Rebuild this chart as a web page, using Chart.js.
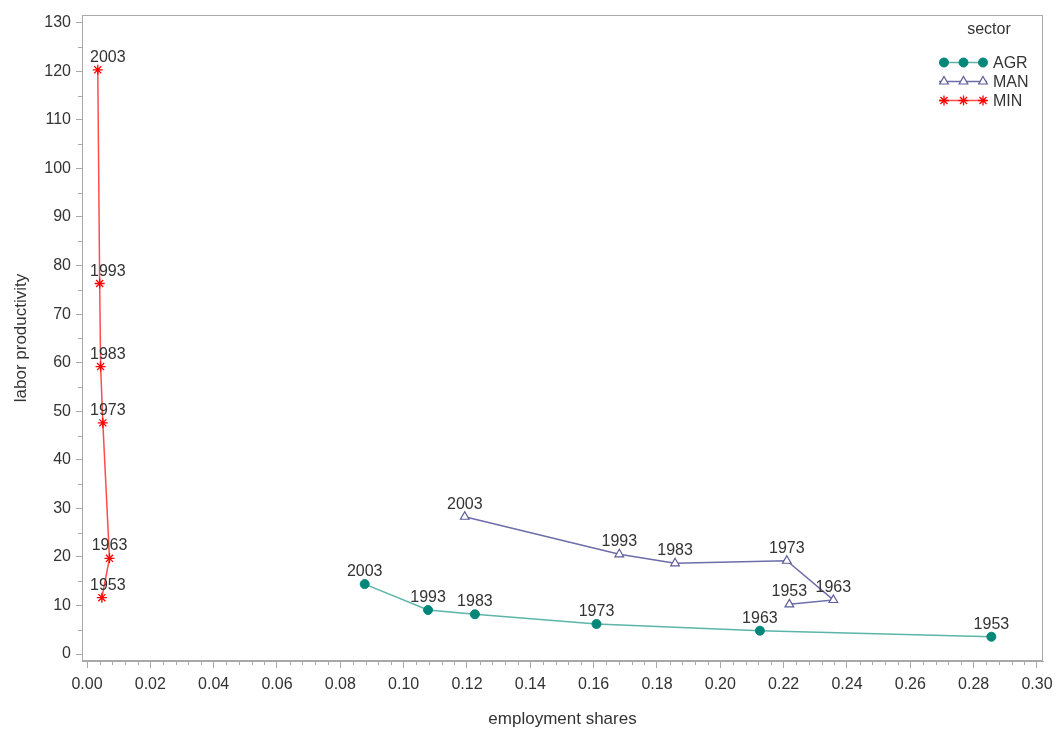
<!DOCTYPE html>
<html><head><meta charset="utf-8">
<script src="https://cdn.jsdelivr.net/npm/chart.js@4/dist/chart.umd.min.js"></script>
<style>html,body{margin:0;padding:0;background:#fff}#wrap{width:1056px;height:731px;position:relative}</style>
</head><body><div id="wrap"><canvas id="c" width="1056" height="731"></canvas></div>
<script>
const years = ['2003','1993','1983','1973','1963','1953'];
const sectors = ['AGR','MAN','MIN'];
const agrShare = [0.0877,0.1077,0.1225,0.1609,0.2125,0.2856];
const agrProd  = [14.4,9.06,8.18,6.18,4.80,3.56];
const manShare = [0.1193,0.1681,0.1857,0.2210,0.2357,0.2218];
const manProd  = [28.27,20.53,18.68,19.21,11.12,10.23];
const minShare = [0.0034,0.0040,0.0043,0.0050,0.0071,0.0047];
const minProd  = [120.3,76.3,59.2,47.6,19.7,11.6];
const xTicks = [0,0.02,0.04,0.06,0.08,0.10,0.12,0.14,0.16,0.18,0.20,0.22,0.24,0.26,0.28,0.30];
const yTicks = [0,10,20,30,40,50,60,70,80,90,100,110,120,130];
const xMinor = []; for (let i = 0; i < xTicks.length - 1; i++) for (let k = 1; k < 5; k++) xMinor.push(xTicks[i] + k * 0.004);
const yMinor = []; for (let i = 0; i < yTicks.length - 1; i++) yMinor.push(yTicks[i] + 5);

const FONT = '"Liberation Sans", Arial, sans-serif';
const GRID = '#a9a9a9';
const TXT = '#333333';

function pts(xs, ys){ return xs.map((x,i)=>({x:x, y:ys[i]})); }

const styles = [
  {line:'#5bb5a9', pb:'#00877a', pc:'#00877a', ps:'circle', r:4.5, bw:1},
  {line:'#6d6da9', pb:'#ffffff', pc:'#5b5b9b', ps:'triangle', r:5, bw:1.2},
  {line:'#ff4d4d', pb:'#ff0000', pc:'#ff0000', ps:'star', r:5, bw:1.3}
];
const series = [pts(agrShare,agrProd), pts(manShare,manProd), pts(minShare,minProd)];

const datasets = sectors.map((s,i)=>({
  label: s, data: series[i], showLine: true,
  borderColor: styles[i].line, borderWidth: 1.5,
  pointStyle: styles[i].ps, pointRadius: styles[i].r,
  pointBackgroundColor: styles[i].pb, pointBorderColor: styles[i].pc,
  pointBorderWidth: styles[i].bw, tension: 0
}));

function drawMarker(ctx, st, x, y){
  ctx.save();
  ctx.fillStyle = st.pb; ctx.strokeStyle = st.pc; ctx.lineWidth = st.bw;
  if (Chart.helpers && Chart.helpers.drawPoint) {
    Chart.helpers.drawPoint(ctx, {pointStyle: st.ps, rotation: 0, radius: st.r, borderWidth: st.bw}, x, y);
  } else {
    ctx.beginPath(); ctx.arc(x, y, st.r, 0, Math.PI*2); ctx.fill(); ctx.stroke();
  }
  ctx.restore();
}

const deco = {
  id: 'deco',
  afterDraw(chart){
    const ctx = chart.ctx, a = chart.chartArea;
    const xs = chart.scales.x, ys = chart.scales.y;
    ctx.save();
    ctx.strokeStyle = GRID; ctx.lineWidth = 1;
    ctx.strokeRect(Math.round(a.left)+0.5, Math.round(a.top)+0.5, Math.round(a.right-a.left)-1, Math.round(a.bottom-a.top)-1);
    ctx.beginPath();
    xMinor.forEach(v=>{ const p = Math.round(xs.getPixelForValue(v))+0.5; ctx.moveTo(p, a.bottom); ctx.lineTo(p, a.bottom+4); });
    yMinor.forEach(v=>{ const p = Math.round(ys.getPixelForValue(v))+0.5; ctx.moveTo(a.left-4, p); ctx.lineTo(a.left, p); });
    ctx.stroke();
    ctx.font = '16px ' + FONT; ctx.fillStyle = TXT; ctx.textAlign = 'center'; ctx.textBaseline = 'alphabetic';
    chart.data.datasets.forEach((ds, di)=>{
      const meta = chart.getDatasetMeta(di);
      meta.data.forEach((el, i)=>{
        const t = years[i]; const w = ctx.measureText(t).width;
        const cx = Math.max(el.x, a.left + 8 + w/2);
        ctx.fillText(t, cx, el.y - 8);
      });
    });
    ctx.textBaseline = 'middle';
    ctx.fillText('sector', 989, 30);
    ctx.textAlign = 'left';
    sectors.forEach((s, k)=>{
      const y = 62.5 + k*19; const st = styles[k];
      ctx.strokeStyle = st.line; ctx.lineWidth = 1.5;
      ctx.beginPath(); ctx.moveTo(939, y); ctx.lineTo(987, y); ctx.stroke();
      [944, 963.5, 983].forEach(x=>drawMarker(ctx, st, x, y));
      ctx.fillStyle = TXT;
      ctx.fillText(s, 993, y + 1);
    });
    ctx.restore();
  }
};

new Chart(document.getElementById('c'), {
  type: 'scatter',
  data: { datasets },
  plugins: [deco],
  options: {
    responsive: false, animation: false, events: [],
    layout: { padding: {top: 15, right: 13, bottom: 0, left: 0} },
    plugins: { legend: {display: false}, tooltip: {enabled: false} },
    scales: {
      x: {
        type: 'linear', min: -0.00158, max: 0.3019,
        afterBuildTicks: s => { s.ticks = xTicks.map(v=>({value:v})); },
        afterFit: s => { s.height = 70; s.paddingLeft = 0; s.paddingRight = 0; },
        ticks: { callback: v => Number(v).toFixed(2), font: {family: FONT, size: 16}, color: TXT, padding: 7, maxRotation: 0, autoSkip: false },
        grid: { drawOnChartArea: false, drawTicks: true, tickLength: 7, color: GRID },
        border: { display: true, color: GRID },
        title: { display: true, text: 'employment shares', font: {family: FONT, size: 17}, color: TXT, padding: {top: 0, bottom: 1} }
      },
      y: {
        type: 'linear', min: -1.44, max: 131.6,
        afterBuildTicks: s => { s.ticks = yTicks.map(v=>({value:v})); },
        afterFit: s => { s.width = 82; s.paddingTop = 0; s.paddingBottom = 0; },
        ticks: { callback: v => String(v), font: {family: FONT, size: 16}, color: TXT, padding: 5, autoSkip: false },
        grid: { drawOnChartArea: false, drawTicks: true, tickLength: 6, color: GRID },
        border: { display: true, color: GRID },
        title: { display: true, text: 'labor productivity', font: {family: FONT, size: 17}, color: TXT, padding: {top: 11, bottom: 0} }
      }
    }
  }
});
</script>
</body></html>
